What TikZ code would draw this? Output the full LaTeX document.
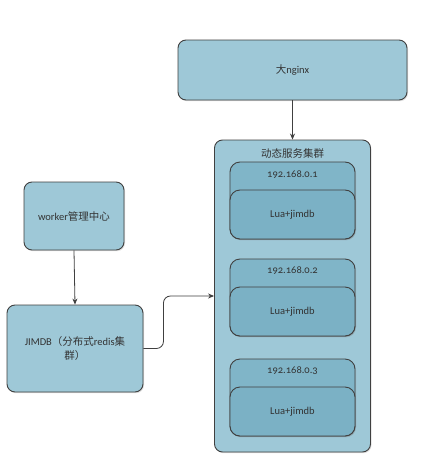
\documentclass[tikz,border=0pt]{standalone}
\usepackage{fontspec}
\setmainfont{Carlito}
\newfontfamily\cjk{Noto Sans CJK SC}
\newfontfamily\ipfont[Numbers=OldStyle]{Carlito}
\usetikzlibrary{arrows.meta,shadows}
\definecolor{boxfill}{HTML}{9EC8D7}
\definecolor{innerfill}{HTML}{80B5C8}
\definecolor{subfill}{HTML}{7BB1C5}
\definecolor{edge}{HTML}{404040}
\definecolor{txt}{HTML}{333333}
\begin{document}
\begin{tikzpicture}[x=1pt,y=-1pt,
  base/.style={draw=edge,line width=0.9pt,text=txt,font=\fontsize{10.5}{12.5}\selectfont,
    drop shadow={shadow xshift=1pt,shadow yshift=-1.2pt,opacity=0.25}},
  bigbox/.style={base,fill=boxfill,rounded corners=8pt,inner sep=0pt},
  ipbox/.style={base,fill=innerfill,rounded corners=10pt,minimum width=125pt,minimum height=77pt,inner sep=0pt},
  subbox/.style={base,fill=subfill,rounded corners=10pt,minimum width=125pt,minimum height=49pt,inner sep=0pt},
  lbl/.style={text=txt,font=\fontsize{10.5}{12.5}\selectfont,inner sep=0pt},
  conn/.style={draw=edge,line width=0.8pt,-{Stealth[length=6pt,width=5pt]}}]
\useasboundingbox (0,0) rectangle (421,474);
\fill[white] (0,0) rectangle (421,474);
\node[bigbox,minimum width=229pt,minimum height=60pt] (nginx) at (292.5,70) {{\cjk 大}nginx};
\node[bigbox,minimum width=156pt,minimum height=312pt] (cluster) at (292.5,296) {};
\node[lbl] (title) at (292.5,153) {\cjk 动态服务集群};
\node[ipbox] (ip1) at (292.5,200.5) {};
\node[subbox] (lua1) at (292.5,214.5) {Lua+jimdb};
\node[lbl] (ipt1) at (292.5,175) {\ipfont 192.168.0.1};
\node[ipbox] (ip2) at (292.5,297.5) {};
\node[subbox] (lua2) at (292.5,311.5) {Lua+jimdb};
\node[lbl] (ipt2) at (292.5,271) {\ipfont 192.168.0.2};
\node[ipbox] (ip3) at (292.5,397.5) {};
\node[subbox] (lua3) at (292.5,411.5) {Lua+jimdb};
\node[lbl] (ipt3) at (292.5,371) {\ipfont 192.168.0.3};
\node[bigbox,minimum width=100pt,minimum height=68pt] (worker) at (74,216) {worker{\cjk 管理中心}};
\node[bigbox,minimum width=136pt,minimum height=87pt,align=center] (jimdb) at (75,348.5) {JIMDB{\cjk （分布式}redis{\cjk 集}\\[1pt]{\cjk 群）}};
\draw[conn] (nginx.south) -- (cluster.north);
\draw[conn] (worker.south) -- (jimdb.north);
\draw[conn,rounded corners=7pt] (jimdb.east) -- ++(20,0) |- (cluster.west);
\end{tikzpicture}
\end{document}
